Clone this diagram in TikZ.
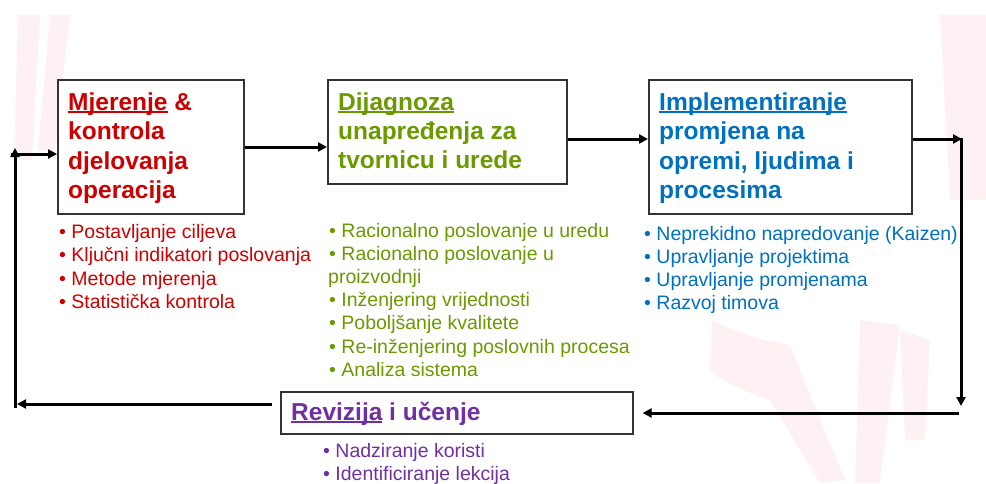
\documentclass[tikz,border=0pt]{standalone}
\usepackage{fontspec}
\setmainfont{Liberation Sans}
\usetikzlibrary{arrows.meta}
\definecolor{cred}{HTML}{CC0000}
\definecolor{cgreen}{HTML}{6A9A00}
\definecolor{cblue}{HTML}{0070C0}
\definecolor{cpurple}{HTML}{7030A0}
\definecolor{wmark}{HTML}{FDF1F4}
\newcommand\myul[1]{\setbox0\hbox{#1}\rlap{\rule[-3.2pt]{\wd0}{1.8pt}}#1}
\tikzset{
  stagebox/.style={draw=black!80, line width=1.6pt, fill=white, inner sep=0pt, anchor=north west},
  ttl/.style={font=\fontsize{24.5}{29.5}\selectfont\bfseries, anchor=base west, inner sep=0pt},
  bul/.style={font=\fontsize{19.5}{23.5}\selectfont, anchor=base west, inner sep=0pt},
  arr/.style={line width=3pt, -{Triangle[length=9pt,width=9pt]}}
}
\begin{document}
\begin{tikzpicture}[x=1pt,y=-1pt]
\useasboundingbox (0,0) rectangle (986,483);
% faint watermark
\fill[wmark] (18,15) -- (40,15) -- (32,160) -- (14,160) -- cycle;
\fill[wmark] (50,15) -- (70,15) -- (55,150) -- (38,150) -- cycle;
\fill[wmark] (940,15) -- (986,15) -- (986,200) -- (950,200) -- cycle;
\fill[wmark] (712,320) .. controls (730,330) and (760,340) .. (790,345) -- (845,480) -- (820,483) -- (770,400) .. controls (740,390) and (720,380) .. (710,370) -- cycle;
\fill[wmark] (860,320) -- (900,325) -- (880,483) -- (855,483) -- cycle;
\fill[wmark] (900,330) -- (930,340) -- (925,440) -- (905,440) -- cycle;

% boxes
\node[stagebox, minimum width=186pt, minimum height=134pt] (b1) at (57,79) {};
\node[stagebox, minimum width=239pt, minimum height=104pt] (b2) at (327,79) {};
\node[stagebox, minimum width=263pt, minimum height=134pt] (b3) at (648,79) {};
\node[stagebox, minimum width=352pt, minimum height=42pt] (b4) at (280,391) {};

% box 1 title
\begin{scope}[cred]
\node[ttl] (t1a) at (68,110) {\myul{Mjerenje} \&};
\node[ttl] (t1b) at (68,139.5) {kontrola};
\node[ttl] (t1c) at (68,169) {djelovanja};
\node[ttl] (t1d) at (68,198.5) {operacija};
\foreach \t [count=\i from 0] in {Postavljanje ciljeva, Ključni indikatori poslovanja, Metode mjerenja, Statistička kontrola}
  \node[bul] (l1\i) at (59,238+23.5*\i) {• \t};
\end{scope}

% box 2
\begin{scope}[cgreen]
\node[ttl] (t2a) at (338,110) {\myul{Dijagnoza}};
\node[ttl] (t2b) at (338,139) {unapređenja za};
\node[ttl] (t2c) at (338,168) {tvornicu i urede};
\node[bul] (l20) at (329,237) {• Racionalno poslovanje u uredu};
\node[bul] (l21) at (329,260.2) {• Racionalno poslovanje u};
\node[bul] (l22) at (328,283.4) {proizvodnji};
\node[bul] (l23) at (329,306.6) {• Inženjering vrijednosti};
\node[bul] (l24) at (329,329.8) {• Poboljšanje kvalitete};
\node[bul] (l25) at (329,353) {• Re-inženjering poslovnih procesa};
\node[bul] (l26) at (329,376.2) {• Analiza sistema};
\end{scope}

% box 3
\begin{scope}[cblue]
\node[ttl] (t3a) at (659,110) {\myul{Implementiranje}};
\node[ttl] (t3b) at (659,139.5) {promjena na};
\node[ttl] (t3c) at (659,169) {opremi, ljudima i};
\node[ttl] (t3d) at (659,198.5) {procesima};
\foreach \t [count=\i from 0] in {Neprekidno napredovanje (Kaizen), Upravljanje projektima, Upravljanje promjenama, Razvoj timova}
  \node[bul] (l3\i) at (644,240+23*\i) {• \t};
\end{scope}

% box 4
\begin{scope}[cpurple]
\node[ttl] (t4a) at (291,420) {\myul{Revizija} i učenje};
\node[bul] (l40) at (323,457) {• Nadziranje koristi};
\node[bul] (l41) at (323,480) {• Identificiranje lekcija};
\end{scope}

% connectors
\coordinate (c1) at (962,139);
\coordinate (c1t) at (961,137.5);
\coordinate (c2) at (961,406);
\coordinate (c3) at (959,413);
\coordinate (c4) at (17,404);
\coordinate (c5) at (15,408);
\coordinate (c6) at (15,148);
\coordinate (c7) at (11,154);

\draw[arr] (b1.east |- 0,147) -- (b2.west |- 0,147);
\draw[arr] (b2.east |- 0,139) -- (b3.west |- 0,139);
\draw[arr] (b3.east |- c1) -- (c1);
\draw[arr] (c1t) -- (c2);
\draw[arr, shorten >=9pt] (c3) -- (b4.east |- c3);
\draw[arr, shorten <=8pt] (b4.west |- c4) -- (c4);
\draw[arr] (c5) -- (c6);
\draw[arr] (c7) -- (b1.west |- c7);
\end{tikzpicture}
\end{document}
